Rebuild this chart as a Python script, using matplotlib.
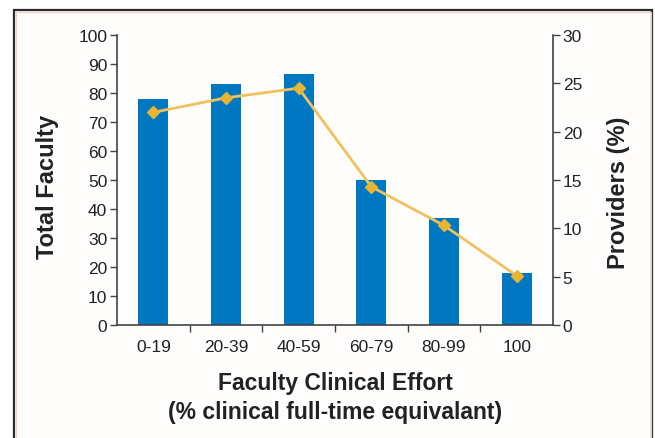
import numpy as np
import matplotlib.pyplot as plt
from matplotlib.patches import Rectangle

# data
categories = ['0-19', '20-39', '40-59', '60-79', '80-99', '100']
total_faculty = [78, 83, 86.5, 50, 37, 18]
providers_pct = [22.0, 23.5, 24.5, 14.3, 10.3, 5.1]

bar_color = '#0077c1'
line_color = '#efc25e'
mark_color = '#e8b532'

narrow = ['Liberation Sans Narrow', 'Liberation Sans', 'DejaVu Sans']
plt.rcParams['font.family'] = ['Liberation Sans', 'DejaVu Sans']

W, H = 655, 439
fig = plt.figure(figsize=(W / 100, H / 100), dpi=100, facecolor='white')

# frame round the figure (behind the axes)
fig.patches.append(Rectangle((14 / W, -0.05), (652 - 14) / W, 1 - 11 / H + 0.05,
                             transform=fig.transFigure, facecolor='#fffdfb',
                             edgecolor='#2b2b2b', linewidth=1.6, zorder=-2))
fig.patches.append(Rectangle((15.5 / W, -0.05), (650.5 - 15.5) / W, 1 - 12.5 / H + 0.05,
                             transform=fig.transFigure, facecolor='none',
                             edgecolor='#f6cfc3', linewidth=0.8, zorder=-1))

ax = fig.add_axes([117 / W, 1 - 326 / H, (553 - 117) / W, (326 - 36) / H])
ax.patch.set_alpha(0)
x = np.arange(len(categories))

ax.bar(x, total_faculty, width=0.41, color=bar_color, zorder=2)
ax.set_xlim(-0.5, len(categories) - 0.5)
ax.set_ylim(0, 100)
ax.set_yticks(np.arange(0, 101, 10))
ax.set_xticks(x)
ax.set_xticklabels(categories)
ax.set_xticks(np.arange(0.5, len(categories) - 1, 1), minor=True)
ax.tick_params(axis='x', which='major', length=0, pad=10, labelsize=12.5, colors='#222222')
ax.tick_params(axis='x', which='minor', length=5, width=1, color='#444444')
ax.tick_params(axis='y', length=5, width=1, color='#444444', labelsize=12.5,
               labelcolor='#222222', pad=2)
for s in ['top', 'right']:
    ax.spines[s].set_visible(False)
for s in ['left', 'bottom']:
    ax.spines[s].set_color('#444444')
    ax.spines[s].set_linewidth(1.2)

ax.set_ylabel('Total Faculty', family=narrow, fontweight='bold', fontsize=17,
              color='#222222')
ax.yaxis.set_label_coords(-0.132, 0.48)
ax.set_xlabel('Faculty Clinical Effort\n(% clinical full-time equivalant)', family=narrow,
              fontweight='bold', fontsize=16.5, color='#222222', labelpad=12,
              linespacing=1.38)

ax2 = ax.twinx()
ax2.plot(x, providers_pct, color=line_color, linewidth=2, marker='D', markersize=6.5,
         markerfacecolor=mark_color, markeredgecolor=mark_color, zorder=3)
ax2.set_ylim(0, 30)
ax2.set_yticks(np.arange(0, 31, 5))
ax2.tick_params(axis='y', length=5, width=1, color='#444444', labelsize=12.5,
                labelcolor='#222222', pad=2)
for s in ['top', 'left', 'bottom']:
    ax2.spines[s].set_visible(False)
ax2.spines['right'].set_color('#444444')
ax2.spines['right'].set_linewidth(1.2)
ax2.set_ylabel('Providers (%)', family=narrow, fontweight='bold', fontsize=17,
               color='#222222')
ax2.yaxis.set_label_coords(1.125, 0.46)

fig.savefig('out.png', dpi=100, facecolor=fig.get_facecolor())
